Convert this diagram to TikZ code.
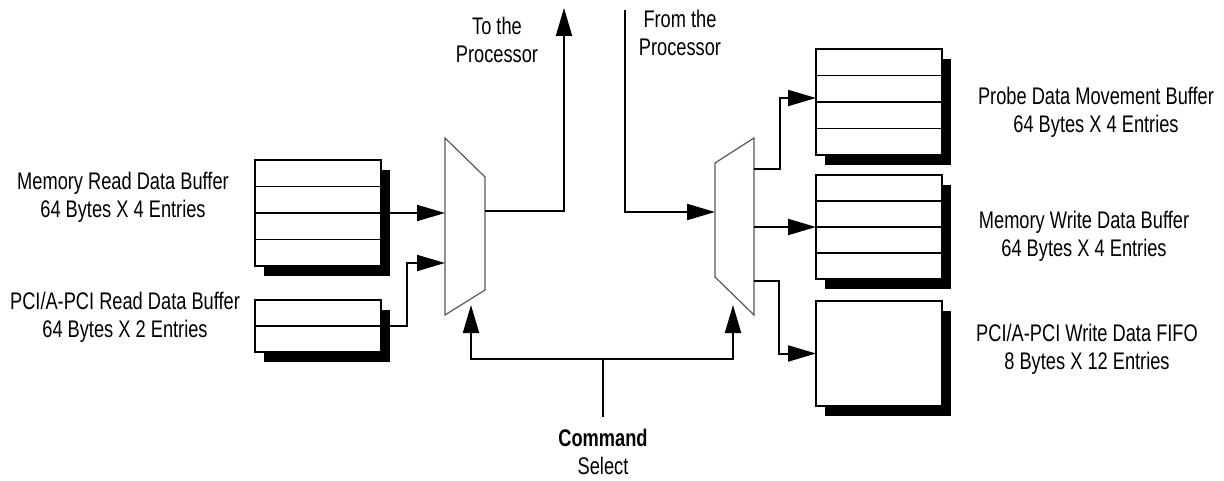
\documentclass[tikz,border=0pt]{standalone}
\usepackage{fontspec}
\setmainfont[FakeStretch=0.76]{Liberation Sans}
\usetikzlibrary{arrows.meta,shadows,calc}
\begin{document}
\begin{tikzpicture}[x=1pt,y=-1pt,
  buf/.style={draw, line width=2pt, fill=white, minimum width=126pt, inner sep=0pt, outer sep=0pt,
    general shadow={fill=black, draw=none, shadow xshift=9pt, shadow yshift=-10pt}},
  row/.style={line width=1.8pt},
  mux/.style={draw=black!65, line width=1.2pt, fill=white},
  wire/.style={line width=2pt},
  conn/.style={line width=2pt, -{Triangle[length=28pt,width=16pt]}},
  lbl/.style={font=\fontsize{24}{28}\selectfont, align=center, inner sep=0pt}]
\useasboundingbox (0,0) rectangle (1224,481);

% buffers
\node[buf, minimum height=106pt] (mrb) at (318,213) {};
\node[buf, minimum height=52pt] (prb) at (318,326) {};
\node[buf, minimum height=106pt] (probe) at (879,102) {};
\node[buf, minimum height=104pt] (mwb) at (879,227) {};
\node[buf, minimum height=105pt] (fifo) at (879,353.5) {};
\foreach \b in {mrb,probe,mwb}{
  \foreach \f in {0.25,0.5,0.75}{
    \draw[row] ($(\b.north west)!\f!(\b.south west)$) -- ($(\b.north east)!\f!(\b.south east)$);
  }
}
\draw[row] (prb.west) -- (prb.east);

% multiplexers
\draw[mux] (445,138) -- (485,177) -- (485,290) -- (445,315) -- cycle;
\draw[mux] (715,163) -- (754,138) -- (754,315) -- (715,277) -- cycle;

% mux ports
\coordinate (lmA) at (445,213);
\coordinate (lmB) at (445,263);
\coordinate (lmO) at (485,211);
\coordinate (lmS) at (471,305);
\coordinate (rmI) at (715,212);
\coordinate (rmO1) at (754,169);
\coordinate (rmO2) at (754,227);
\coordinate (rmO3) at (754,281);
\coordinate (rmS) at (733,305);
\coordinate (toP) at (564,8);
\coordinate (fromP) at (625,10);
\coordinate (cmd) at (603,417);
\coordinate (cmdJ) at (603,359);

% connectors
\draw[conn] (mrb.east) -- (lmA);
\draw[conn] (prb.east) -- ++(26,0) |- (lmB);
\draw[conn] (lmO) -| (toP);
\draw[conn] (fromP) |- (rmI);
\draw[conn] (rmO1) -- ++(26,0) |- ([yshift=4pt]probe.west);
\draw[conn] (rmO2) -- (mwb.west);
\draw[conn] (rmO3) -- ++(25,0) |- (fifo.west);
\draw[wire] (cmd) -- (cmdJ);
\draw[conn] (cmdJ) -| (lmS);
\draw[conn] (cmdJ) -| (rmS);

% labels
\node[lbl] (tmrb) at (123,197) {Memory Read Data Buffer\\64 Bytes X 4 Entries};
\node[lbl] (tprb) at (125,317) {PCI/A-PCI Read Data Buffer\\64 Bytes X 2 Entries};
\node[lbl] (ttop) at (497,40) {To the\\Processor};
\node[lbl] (tfromp) at (680,33) {From the\\Processor};
\node[lbl] (tprobe) at (1096,112) {Probe Data Movement Buffer\\64 Bytes X 4 Entries};
\node[lbl] (tmwb) at (1084,236) {Memory Write Data Buffer\\64 Bytes X 4 Entries};
\node[lbl] (tfifo) at (1087,349) {PCI/A-PCI Write Data FIFO\\8 Bytes X 12 Entries};
\node[lbl] (tcmd) at (603,452) {\textbf{Command}\\Select};
\end{tikzpicture}
\end{document}
